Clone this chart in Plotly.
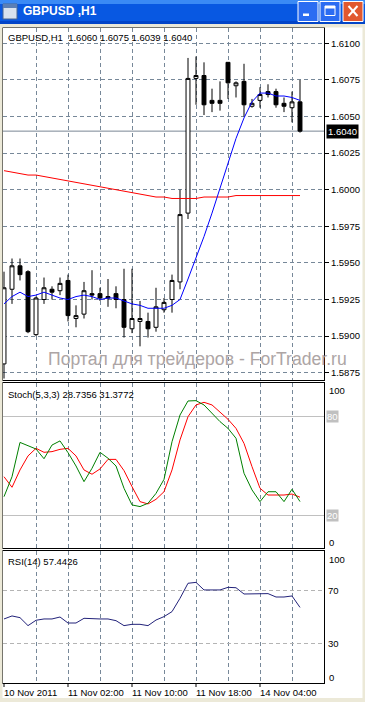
import plotly.graph_objects as go

W, H = 365, 702

# ---------------- data ----------------
BARS = list(range(38))
OPEN = [1.5881, 1.5932, 1.5948, 1.5944, 1.5901, 1.5925, 1.5932, 1.5931, 1.5938, 1.5912,
        1.5915, 1.5929, 1.5929, 1.5927, 1.5929, 1.5925, 1.5905, 1.5910, 1.5910, 1.5906,
        1.5918, 1.5925, 1.5937, 1.5984, 1.6076, 1.6078, 1.6061, 1.6061, 1.6087, 1.6071,
        1.6074, 1.6057, 1.6061, 1.6067, 1.6067, 1.6059, 1.6056, 1.6060]
HIGH = [1.5944, 1.5953, 1.5953, 1.5945, 1.5927, 1.5940, 1.5934, 1.5940, 1.5942, 1.5921,
        1.5937, 1.5945, 1.5933, 1.5939, 1.5934, 1.5946, 1.5946, 1.5924, 1.5916, 1.5933,
        1.5926, 1.5942, 1.6000, 1.6090, 1.6091, 1.6087, 1.6069, 1.6074, 1.6087, 1.6074,
        1.6086, 1.6062, 1.6070, 1.6072, 1.6069, 1.6063, 1.6067, 1.6075]
LOW = [1.5871, 1.5922, 1.5938, 1.5902, 1.5900, 1.5922, 1.5925, 1.5928, 1.5910, 1.5906,
       1.5912, 1.5925, 1.5924, 1.5920, 1.5919, 1.5899, 1.5902, 1.5893, 1.5899, 1.5903,
       1.5916, 1.5916, 1.5932, 1.5980, 1.6058, 1.6051, 1.6053, 1.6054, 1.6062, 1.6063,
       1.6050, 1.6056, 1.6056, 1.6063, 1.6056, 1.6053, 1.6046, 1.6039]
CLOSE = [1.5933, 1.5948, 1.5942, 1.5903, 1.5926, 1.5933, 1.5930, 1.5936, 1.5914, 1.5914,
         1.5931, 1.5928, 1.5926, 1.5926, 1.5925, 1.5906, 1.5912, 1.5912, 1.5905, 1.5920,
         1.5923, 1.5938, 1.5983, 1.6076, 1.6078, 1.6058, 1.6059, 1.6059, 1.6073, 1.6073,
         1.6058, 1.6059, 1.6065, 1.6065, 1.6058, 1.6057, 1.6060, 1.6040]
MA_FAST = [1.5922, 1.5927, 1.5930, 1.5927, 1.5928, 1.5930, 1.5928, 1.5926, 1.5925, 1.5927,
           1.5928, 1.5927, 1.5925, 1.5926, 1.5926, 1.5924, 1.5922, 1.5921, 1.5919, 1.5919,
           1.5919, 1.5921, 1.5925, 1.5939, 1.5953, 1.5968, 1.5984, 1.6001, 1.6019, 1.6035,
           1.6049, 1.6060, 1.6066, 1.6066, 1.6064, 1.6064, 1.6063, 1.6061]
MA_SLOW = [1.6013, 1.6012, 1.6011, 1.6010, 1.6010, 1.6009, 1.6008, 1.6007, 1.6006, 1.6005,
           1.6004, 1.6003, 1.6002, 1.6001, 1.6000, 1.5999, 1.5998, 1.5997, 1.5996, 1.5995,
           1.5995, 1.5994, 1.5994, 1.5994, 1.5994, 1.5995, 1.5995, 1.5995, 1.5995, 1.5996,
           1.5996, 1.5996, 1.5996, 1.5996, 1.5996, 1.5996, 1.5996, 1.5996]
STOCH_K = [31.7, 43.8, 64.6, 62.8, 60.6, 54.7, 63.0, 65.5, 58.4, 50.3,
           40.8, 48.9, 58.6, 55.0, 50.3, 36.8, 26.7, 25.7, 27.7, 33.7,
           42.2, 65.0, 81.2, 89.7, 89.9, 87.3, 82.2, 77.2, 73.1, 67.1,
           45.9, 35.8, 28.7, 34.7, 34.7, 28.7, 36.2, 28.74]
STOCH_D = [43.8, 37.4, 47.9, 56.4, 61.0, 58.6, 59.0, 60.4, 61.0, 56.4,
           47.9, 45.3, 48.5, 54.3, 54.3, 47.5, 37.8, 28.7, 27.3, 30.1,
           34.7, 47.9, 66.1, 80.2, 87.3, 88.9, 87.3, 83.2, 78.6, 73.1,
           64.0, 49.9, 36.8, 32.7, 32.7, 32.7, 33.3, 31.38]
RSI = [48.6, 50.9, 49.6, 43.5, 47.6, 48.6, 48.6, 50.1, 45.5, 45.5,
       49.1, 48.6, 48.6, 48.6, 47.3, 43.5, 44.5, 44.5, 43.5, 47.8,
       50.4, 54.2, 64.4, 75.9, 76.6, 70.8, 70.8, 70.8, 72.8, 72.5,
       67.7, 67.7, 68.2, 68.0, 65.4, 65.4, 66.2, 57.44]

PRICE_TICKS = [1.5875, 1.5900, 1.5925, 1.5950, 1.5975, 1.6000, 1.6025, 1.6050, 1.6075, 1.6100]
GRID_BARS = [4, 8, 12, 16, 20, 24, 28, 32, 36]
LABEL_BARS = [0, 8, 16, 24, 32]
LABELS = ["10 Nov 2011", "11 Nov 02:00", "11 Nov 10:00", "11 Nov 18:00", "14 Nov 04:00"]
STOCH_LEVELS = [20, 80]
RSI_LEVELS = [30, 70]
SYMBOL = "GBPUSD,H1"
WINDOW_TITLE = "GBPUSD ,H1"
STOCH_TITLE = "Stoch(5,3,3) 28.7356 31.3772"
RSI_TITLE = "RSI(14) 57.4426"
WATERMARK = "Портал для трейдеров - ForTrader.ru"

# ---------------- helpers ----------------
def fx(x):
    return x / W

def fy(y):
    return 1 - y / H

FONT = "Liberation Sans, Arial, sans-serif"
GRID = "#778899"
DASH = "4px,3px"
X_RANGE = [-0.125, 40]

fig = go.Figure()

fig.add_trace(go.Candlestick(
    x=BARS, open=OPEN, high=HIGH, low=LOW, close=CLOSE,
    increasing=dict(line=dict(color="black", width=1), fillcolor="white"),
    decreasing=dict(line=dict(color="black", width=1), fillcolor="black"),
    xaxis="x", yaxis="y", showlegend=False, hoverinfo="skip"))
fig.add_trace(go.Scatter(x=BARS, y=MA_SLOW, mode="lines", line=dict(color="#FF0000", width=1),
                         xaxis="x", yaxis="y", showlegend=False, hoverinfo="skip"))
fig.add_trace(go.Scatter(x=BARS, y=MA_FAST, mode="lines", line=dict(color="#0000FF", width=1),
                         xaxis="x", yaxis="y", showlegend=False, hoverinfo="skip"))
fig.add_trace(go.Scatter(x=BARS, y=STOCH_D, mode="lines", line=dict(color="#FF0000", width=1),
                         xaxis="x2", yaxis="y2", showlegend=False, hoverinfo="skip"))
fig.add_trace(go.Scatter(x=BARS, y=STOCH_K, mode="lines", line=dict(color="#008000", width=1),
                         xaxis="x2", yaxis="y2", showlegend=False, hoverinfo="skip"))
fig.add_trace(go.Scatter(x=BARS, y=RSI, mode="lines", line=dict(color="#22227A", width=1),
                         xaxis="x3", yaxis="y3", showlegend=False, hoverinfo="skip"))

xcommon = dict(range=X_RANGE, domain=[fx(3), fx(324)], showline=True, mirror=True,
               linecolor="black", linewidth=1, tickmode="array", tickvals=GRID_BARS,
               showticklabels=False, ticks="", showgrid=True, gridcolor=GRID,
               griddash=DASH, gridwidth=1, zeroline=False, fixedrange=True)

ycommon = dict(side="right", showline=True, mirror=True, linecolor="black", linewidth=1,
               zeroline=False, fixedrange=True)

fig.update_layout(
    width=W, height=H, autosize=False,
    margin=dict(l=0, r=0, t=0, b=0, pad=0),
    paper_bgcolor="white", plot_bgcolor="white",
    font=dict(family=FONT, size=9.5, color="black"),
    showlegend=False, hovermode=False, dragmode=False,
    xaxis=dict(**xcommon, anchor="y", rangeslider=dict(visible=False)),
    xaxis2=dict(**xcommon, anchor="y2"),
    xaxis3=dict(**xcommon, anchor="y3"),
    yaxis=dict(**ycommon, anchor="x", domain=[fy(380), fy(28)], range=[1.587001, 1.611045],
               tickmode="array", tickvals=PRICE_TICKS,
               ticktext=[f"{v:.4f}" for v in PRICE_TICKS],
               ticks="outside", ticklen=4, tickcolor="black", tickwidth=1,
               showgrid=True, gridcolor=GRID, griddash=DASH,
               tickfont=dict(family=FONT, size=9.5, color="black")),
    yaxis2=dict(**ycommon, anchor="x2", domain=[fy(548), fy(383)], range=[0.6, 100.6],
                tickmode="array", tickvals=STOCH_LEVELS, showticklabels=False, ticks="",
                showgrid=True, gridcolor="#C0C0C0", griddash="solid"),
    yaxis3=dict(**ycommon, anchor="x3", domain=[fy(683), fy(551)], range=[-0.4, 100.6],
                tickmode="array", tickvals=RSI_LEVELS, showticklabels=False, ticks="",
                showgrid=True, gridcolor="#B4B4B4", griddash=DASH),
)

shapes = []
# window chrome: title bar
shapes.append(dict(type="rect", xref="paper", yref="paper", x0=0, x1=1, y0=fy(24), y1=1,
                   fillcolor="#0858E2", line=dict(width=0), layer="above"))
shapes.append(dict(type="rect", xref="paper", yref="paper", x0=0, x1=1, y0=fy(4), y1=1,
                   fillcolor="#3A8AF5", line=dict(width=0), layer="above"))
shapes.append(dict(type="rect", xref="paper", yref="paper", x0=0, x1=1, y0=fy(24), y1=fy(21),
                   fillcolor="#0345C8", line=dict(width=0), layer="above"))
# beige frame
BEIGE = "#ECE9D8"
shapes.append(dict(type="rect", xref="paper", yref="paper", x0=0, x1=1, y0=fy(27.5), y1=fy(24),
                   fillcolor=BEIGE, line=dict(width=0), layer="above"))
shapes.append(dict(type="rect", xref="paper", yref="paper", x0=0, x1=fx(2.5), y0=0, y1=fy(24),
                   fillcolor=BEIGE, line=dict(width=0), layer="above"))
shapes.append(dict(type="rect", xref="paper", yref="paper", x0=fx(362.5), x1=1, y0=0, y1=fy(24),
                   fillcolor=BEIGE, line=dict(width=0), layer="above"))
shapes.append(dict(type="rect", xref="paper", yref="paper", x0=0, x1=1, y0=0, y1=fy(698),
                   fillcolor=BEIGE, line=dict(width=0), layer="above"))
# app icon
shapes.append(dict(type="rect", xref="paper", yref="paper", x0=fx(3), x1=fx(17), y0=fy(19), y1=fy(4),
                   fillcolor="#D8E2EE", line=dict(color="#4A6690", width=1), layer="above"))
shapes.append(dict(type="rect", xref="paper", yref="paper", x0=fx(3), x1=fx(17), y0=fy(8), y1=fy(4),
                   fillcolor="#5B7FB5", line=dict(width=0), layer="above"))
# buttons
for x0, x1, col in [(298, 318, "#2B6CF2"), (320, 340, "#2B6CF2"), (343, 363, "#E1582F")]:
    shapes.append(dict(type="rect", xref="paper", yref="paper", x0=fx(x0), x1=fx(x1),
                       y0=fy(21.5), y1=fy(1.5), fillcolor=col,
                       line=dict(color="white", width=1), layer="above"))
shapes.append(dict(type="rect", xref="paper", yref="paper", x0=fx(303), x1=fx(309), y0=fy(16), y1=fy(13.5),
                   fillcolor="white", line=dict(width=0), layer="above"))
shapes.append(dict(type="rect", xref="paper", yref="paper", x0=fx(325), x1=fx(335), y0=fy(15.5), y1=fy(6),
                   fillcolor="rgba(0,0,0,0)", line=dict(color="white", width=1), layer="above"))
shapes.append(dict(type="rect", xref="paper", yref="paper", x0=fx(325), x1=fx(335), y0=fy(8.5), y1=fy(6),
                   fillcolor="white", line=dict(width=0), layer="above"))
shapes.append(dict(type="line", xref="paper", yref="paper", x0=fx(348.5), x1=fx(357.5), y0=fy(6), y1=fy(16),
                   line=dict(color="white", width=2), layer="above"))
shapes.append(dict(type="line", xref="paper", yref="paper", x0=fx(357.5), x1=fx(348.5), y0=fy(6), y1=fy(16),
                   line=dict(color="white", width=2), layer="above"))
# current price line
shapes.append(dict(type="line", xref="x domain", yref="y", x0=0, x1=1, y0=CLOSE[-1], y1=CLOSE[-1],
                   line=dict(color="#7A8694", width=1), layer="below"))
# x label ticks
for b in LABEL_BARS:
    shapes.append(dict(type="line", xref="x3", yref="paper", x0=b, x1=b, y0=fy(683), y1=fy(687),
                       line=dict(color="black", width=1), layer="above"))

fig.update_layout(shapes=shapes)

ann = []
ann.append(dict(text="<b>" + WINDOW_TITLE + "</b>", xref="paper", yref="paper", x=fx(21), y=fy(11.5),
                xanchor="left", yanchor="middle", showarrow=False,
                font=dict(family=FONT, size=12, color="white")))
ann.append(dict(text=f"{SYMBOL}\u00a0 {OPEN[-1]:.4f} {HIGH[-1]:.4f} {LOW[-1]:.4f} {CLOSE[-1]:.4f}",
                xref="paper", yref="paper", x=fx(6), y=fy(37.5), xanchor="left", yanchor="middle",
                showarrow=False, font=dict(family=FONT, size=9.5, color="black")))
ann.append(dict(text=STOCH_TITLE, xref="paper", yref="paper", x=fx(6), y=fy(394),
                xanchor="left", yanchor="middle", showarrow=False))
ann.append(dict(text=RSI_TITLE, xref="paper", yref="paper", x=fx(6), y=fy(561),
                xanchor="left", yanchor="middle", showarrow=False))
ann.append(dict(text=WATERMARK, xref="paper", yref="paper", x=fx(47), y=fy(358.5),
                xanchor="left", yanchor="middle", showarrow=False, borderpad=0,
                font=dict(family=FONT, size=17.6, color="#ADA5A5")))
ann.append(dict(text=f"{CLOSE[-1]:.4f}", xref="paper", yref="y", x=fx(326), y=CLOSE[-1],
                xanchor="left", yanchor="middle", showarrow=False, bgcolor="black", borderpad=1,
                font=dict(family=FONT, size=9.5, color="white")))
# stoch scale labels
ann.append(dict(text="100", xref="paper", yref="paper", x=fx(327), y=fy(391), xanchor="left",
                yanchor="middle", showarrow=False))
ann.append(dict(text="0", xref="paper", yref="paper", x=fx(327), y=fy(542.5), xanchor="left",
                yanchor="middle", showarrow=False))
for lv in STOCH_LEVELS:
    ann.append(dict(text=str(lv), xref="paper", yref="y2", x=fx(326), y=lv, xanchor="left",
                    yanchor="middle", showarrow=False, bgcolor="#C0C0C0", borderpad=0,
                    font=dict(family=FONT, size=9.5, color="white")))
# rsi scale labels
ann.append(dict(text="100", xref="paper", yref="paper", x=fx(327), y=fy(559), xanchor="left",
                yanchor="middle", showarrow=False))
ann.append(dict(text="0", xref="paper", yref="paper", x=fx(327), y=fy(677), xanchor="left",
                yanchor="middle", showarrow=False))
for lv in RSI_LEVELS:
    ann.append(dict(text=str(lv), xref="paper", yref="y3", x=fx(326), y=lv, xanchor="left",
                    yanchor="middle", showarrow=False))
# x labels
for b, t in zip(LABEL_BARS, LABELS):
    ann.append(dict(text=t, xref="x3", yref="paper", x=b, y=fy(692), xanchor="left",
                    yanchor="middle", showarrow=False, xshift=-2))

fig.update_layout(annotations=ann)

fig.write_html("out.html", config={"displayModeBar": False, "staticPlot": True})
